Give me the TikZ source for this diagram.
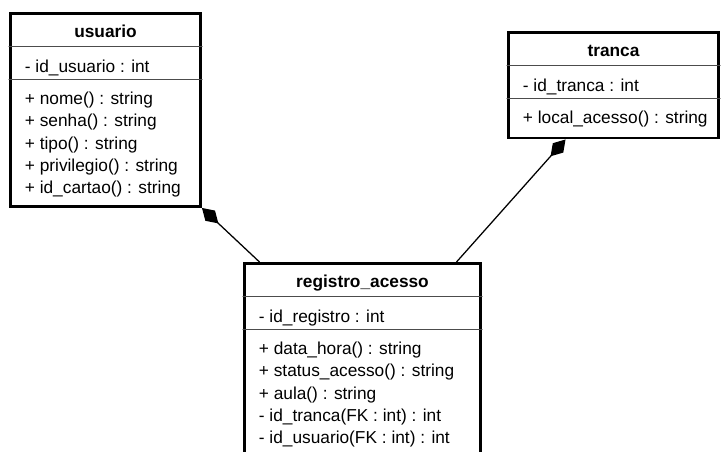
\documentclass[tikz,border=0pt]{standalone}
\usepackage{fontspec}
\setmainfont{Liberation Sans}
\usetikzlibrary{arrows.meta}

\tikzset{
  classbox/.style={draw,line width=2.1pt,inner sep=0pt},
  divider/.style={black!70,line width=0.8pt},
  classname/.style={anchor=base,inner sep=0pt,font=\fontsize{12.3}{15}\selectfont\bfseries},
  member/.style={anchor=base west,inner sep=0pt,font=\fontsize{12.3}{15}\selectfont},
  composition/.style={line width=0.9pt,-{Diamond[length=16pt,width=10pt]}},
}

\begin{document}
\begin{tikzpicture}[line cap=round]
\path[use as bounding box,clip] (0,0) rectangle (18.05,11.275);
% the three classes
\node[classbox,minimum width=4.75cm,minimum height=4.825cm] (usuario) at (2.6375,8.525) {};
\node[classbox,minimum width=5.25cm,minimum height=2.6375cm] (tranca) at (15.3375,9.14375) {};
\node[classbox,minimum width=5.9cm,minimum height=4.85cm] (registro) at (9.0625,2.2625) {};
% compartments
\foreach \c in {usuario,tranca,registro}{
  \draw[divider] ([yshift=-0.8625cm]\c.north west) -- ([yshift=-0.8625cm]\c.north east);
  \draw[divider] ([yshift=-1.6875cm]\c.north west) -- ([yshift=-1.6875cm]\c.north east);
}
% usuario
\node[classname] (usuario-name) at ([yshift=-0.625cm]usuario.north) {usuario};
\node[member] (usuario-id) at ([xshift=0.39cm,yshift=-1.5125cm]usuario.north west) {- id\_usuario : int};
\foreach \op [count=\i] in {+ nome() : string,+ senha() : string,+ tipo() : string,+ privilegio() : string,+ id\_cartao() : string}
  \node[member] (usuario-op\i) at ([xshift=0.39cm,yshift={-2.3125cm-(\i-1)*0.5575cm}]usuario.north west) {\op};
% tranca
\node[classname] (tranca-name) at ([yshift=-0.625cm]tranca.north) {tranca};
\node[member] (tranca-id) at ([xshift=0.39cm,yshift=-1.5125cm]tranca.north west) {- id\_tranca : int};
\node[member] (tranca-op1) at ([xshift=0.39cm,yshift=-2.3125cm]tranca.north west) {+ local\_acesso() : string};
% registro_acesso
\node[classname] (registro-name) at ([yshift=-0.625cm]registro.north) {registro\_acesso};
\node[member] (registro-id) at ([xshift=0.39cm,yshift=-1.5125cm]registro.north west) {- id\_registro : int};
\foreach \op [count=\i] in {+ data\_hora() : string,+ status\_acesso() : string,+ aula() : string,- id\_tranca(FK : int) : int,- id\_usuario(FK : int) : int}
  \node[member] (registro-op\i) at ([xshift=0.39cm,yshift={-2.3125cm-(\i-1)*0.5575cm}]registro.north west) {\op};
% compositions
\draw[composition] ([xshift=0.4125cm]registro.north west) -- (usuario.south east);
\draw[composition] ([xshift=-0.6375cm]registro.north east) -- ([xshift=1.4625cm]tranca.south west);
\end{tikzpicture}
\end{document}
